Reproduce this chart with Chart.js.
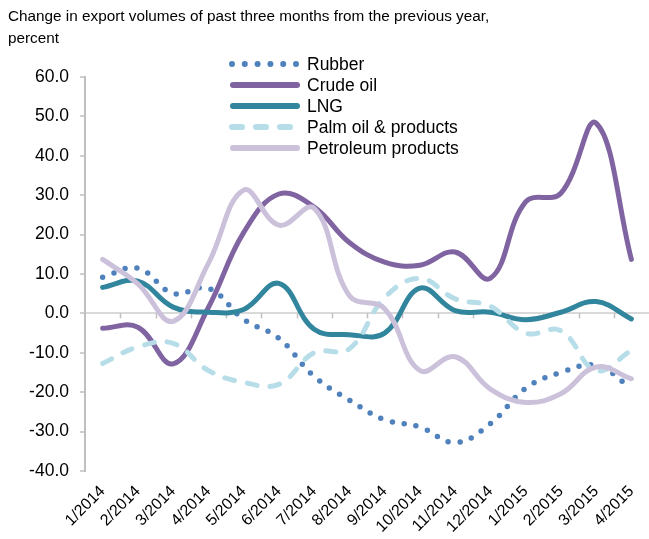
<!DOCTYPE html>
<html>
<head>
<meta charset="utf-8">
<script src="https://cdn.jsdelivr.net/npm/chart.js@4/dist/chart.umd.min.js"></script>
<style>
html,body{margin:0;padding:0;background:#fff;}
#wrap{width:649px;height:539px;position:relative;}
</style>
</head>
<body>
<div id="wrap"><canvas id="c" width="649" height="539"></canvas></div>
<script>
const titleLines = ["Change in export volumes of past three months from the previous year,", "percent"];
const categories = ["1/2014","2/2014","3/2014","4/2014","5/2014","6/2014","7/2014","8/2014","9/2014","10/2014","11/2014","12/2014","1/2015","2/2015","3/2015","4/2015"];
const seriesNames = ["Rubber","Crude oil","LNG","Palm oil & products","Petroleum products"];
const rubber     = [9.2, 11.5, 5.1, 6.4, -1.5, -6.3, -16, -22, -27, -28.8, -32.8, -28, -19, -15, -13.2, -19];
const crudeOil   = [-3.8, -3.5, -12.8, 1.5, 20.5, 30.3, 27, 18, 13, 12.2, 15.6, 8.9, 28.3, 30.5, 48.3, 13.7];
const lng        = [6.6, 8.2, 1.6, 0.3, 1.0, 7.6, -4, -5.4, -5, 6.4, 0.7, 0.3, -1.6, 0.3, 3, -1.4];
const palmOil    = [-12.7, -8.5, -7.6, -14.5, -17.5, -18, -10, -9, 4, 8.9, 3.7, 1.8, -5, -4.4, -14.5, -9.4];
const petroleum  = [13.7, 7.5, -2, 12.7, 31.3, 22.4, 26.7, 4.5, 1.2, -14.5, -11, -19.2, -22.6, -20.4, -13.6, -16.6];
const yMin = -40, yMax = 60, yStep = 10;

const colors = {
  rubber: '#4f81bd',
  crude: '#8064a2',
  lng: '#31859c',
  palm: '#b7dee8',
  petro: '#ccc1da'
};
const FONT = '"Liberation Sans", Arial, sans-serif';

const styles = [
  {color: colors.rubber, dash: [0, 12], width: 5.5},
  {color: colors.crude, dash: [], width: 5},
  {color: colors.lng, dash: [], width: 5},
  {color: colors.palm, dash: [10, 13], width: 5},
  {color: colors.petro, dash: [], width: 5}
];
const values = [rubber, crudeOil, lng, palmOil, petroleum];

const datasets = values.map((v, i) => ({
  label: seriesNames[i],
  data: v,
  borderColor: styles[i].color,
  backgroundColor: styles[i].color,
  borderWidth: styles[i].width,
  borderDash: styles[i].dash,
  borderCapStyle: 'round',
  borderJoinStyle: 'round',
  pointRadius: 0,
  pointHoverRadius: 0,
  tension: 0.4,
  fill: false,
  order: 5 - i
}));

const decorPlugin = {
  id: 'decor',
  beforeDatasetsDraw(chart) {
    const ctx = chart.ctx;
    const x = chart.scales.x, y = chart.scales.y;
    const y0 = y.getPixelForValue(0);
    ctx.save();
    ctx.strokeStyle = '#bfbfbf';
    ctx.lineWidth = 1.5;
    for (let i = 1; i < categories.length; i++) {
      const px = Math.round((x.getPixelForValue(i - 1) + x.getPixelForValue(i)) / 2) + 0.5;
      ctx.beginPath();
      ctx.moveTo(px, y0);
      ctx.lineTo(px, y0 + 5);
      ctx.stroke();
    }
    ctx.restore();
  },
  afterDraw(chart) {
    const ctx = chart.ctx;
    ctx.save();
    ctx.fillStyle = '#000';
    ctx.font = '15.3px ' + FONT;
    ctx.textBaseline = 'alphabetic';
    ctx.textAlign = 'left';
    ctx.fillText(titleLines[0], 8, 21);
    ctx.fillText(titleLines[1], 8, 43);
    const rows = [64, 85, 106, 127, 148];
    seriesNames.forEach((name, i) => {
      const yy = rows[i];
      ctx.save();
      ctx.strokeStyle = styles[i].color;
      ctx.lineCap = 'round';
      ctx.lineWidth = 6;
      if (i === 0) {
        ctx.setLineDash([0, 12.8]);
        ctx.beginPath(); ctx.moveTo(232, yy); ctx.lineTo(297, yy); ctx.stroke();
      } else if (i === 3) {
        ctx.setLineDash([10, 14]);
        ctx.beginPath(); ctx.moveTo(232, yy); ctx.lineTo(297, yy); ctx.stroke();
      } else {
        ctx.beginPath(); ctx.moveTo(233, yy); ctx.lineTo(297, yy); ctx.stroke();
      }
      ctx.restore();
      ctx.fillStyle = '#000';
      ctx.font = '17.5px ' + FONT;
      ctx.textBaseline = 'middle';
      ctx.fillText(name, 307, yy + 1);
    });
    ctx.restore();
  }
};

new Chart(document.getElementById('c'), {
  type: 'line',
  data: { labels: categories, datasets },
  options: {
    responsive: false,
    animation: false,
    devicePixelRatio: 1,
    layout: { padding: { top: 77, right: 0, bottom: 0, left: 0 } },
    plugins: { legend: { display: false }, title: { display: false }, tooltip: { enabled: false } },
    scales: {
      x: {
        type: 'category',
        offset: true,
        grid: { display: false, drawTicks: false },
        border: { display: false },
        ticks: {
          autoSkip: false, minRotation: 45, maxRotation: 45, padding: 11,
          color: '#000', font: { family: FONT, size: 16 }
        },
        afterFit(s) { s.height = 68; s.paddingRight = 0; s.paddingLeft = 0; }
      },
      y: {
        min: yMin, max: yMax,
        ticks: {
          stepSize: yStep, padding: 11, color: '#000',
          font: { family: FONT, size: 17.5 },
          callback: v => Number(v).toFixed(1)
        },
        grid: {
          color: c => (c.tick && c.tick.value === 0) ? '#d9d9d9' : 'rgba(0,0,0,0)',
          lineWidth: 2,
          drawTicks: true, tickLength: 5, tickColor: '#bfbfbf', tickWidth: 1.5
        },
        border: { display: true, color: '#bfbfbf', width: 2 },
        afterFit(s) { s.width = 85; s.paddingTop = 0; s.paddingBottom = 0; }
      }
    }
  },
  plugins: [decorPlugin]
});
</script>
</body>
</html>
